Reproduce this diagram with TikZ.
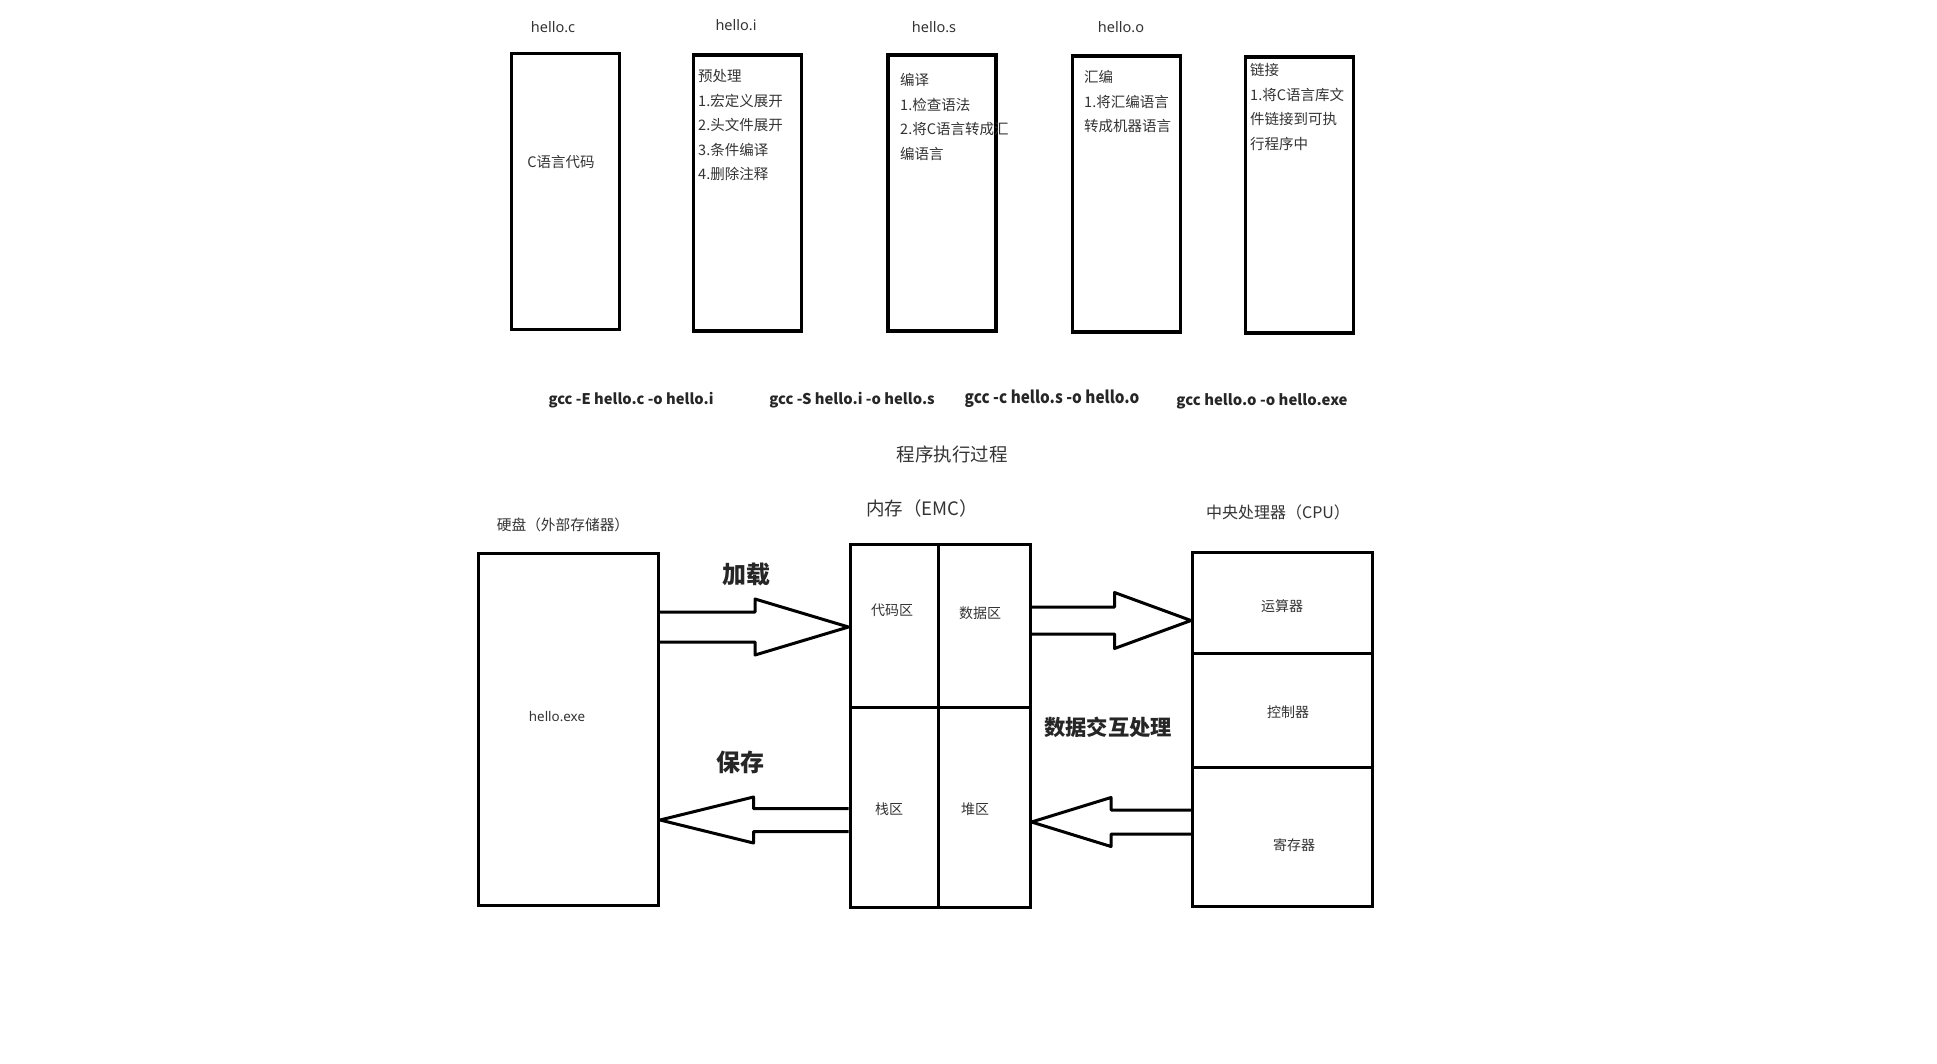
\documentclass[tikz,border=0pt]{standalone}
\usepackage{fontspec}
\setmainfont{Noto Sans CJK SC}
\newfontfamily\latinfont{Noto Sans}
\usetikzlibrary{calc,positioning}

% wide block arrow: start, tip, half shaft, half head, shaft length
\newcommand{\fatarrow}[5]{%
  \draw[line width=3pt,line join=round] ($#1+(0,#3)$) -- ($#1+(#5,#3)$) -- ($#1+(#5,#4)$) -- #2
    -- ($#1+(#5,-#4)$) -- ($#1+(#5,-#3)$) -- ($#1+(0,-#3)$);}

\begin{document}
\begin{tikzpicture}[x=1pt,y=-1pt]
\useasboundingbox (0,0) rectangle (1937,1063);

% compile steps
\begin{scope}[every node/.style={draw,line width=3.5pt,minimum width=108,minimum height=276}]
    \node (src) at (565.5,191.5) {};
    \node (pre) at (747.5,193) {};
    \node (cmp) at (942,193) {};
    \node (asm) at (1126.5,194) {};
    \node (lnk) at (1299.5,195) {};
\end{scope}

\begin{scope}[every node/.style={text=black!80,font=\latinfont\fontsize{14.5}{17}\selectfont}]
    \node (srcname) at (553,27) {hello.c};
    \node (prename) at (736,25) {hello.i};
    \node (cmpname) at (934,27) {hello.s};
    \node (asmname) at (1121,27) {hello.o};
\end{scope}

\begin{scope}[every node/.style={text=black!80,align=left,anchor=north west,inner sep=0pt,font=\fontsize{14.5}{24.5}\selectfont}]
    \node[anchor=center] (srctext) at (561,162) {C语言代码};
    \node (pretext) at (698,69.5) {预处理\\1.宏定义展开\\2.头文件展开\\3.条件编译\\4.删除注释};
    \node (cmptext) at (900,73.5) {编译\\1.检查语法\\2.将C语言转成汇\\编语言};
    \node (asmtext) at (1084,70.5) {汇编\\1.将汇编语言\\转成机器语言};
    \node (lnktext) at (1250,63.5) {链接\\1.将C语言库文\\件链接到可执\\行程序中};
\end{scope}

\begin{scope}[cmd/.style={text=black!85,font=\bfseries\fontsize{#1}{#1}\selectfont}]
    \node[cmd=14.7] (cmdE) at (631,400) {gcc -E hello.c -o hello.i};
    \node[cmd=14.8] (cmdS) at (852,400) {gcc -S hello.i -o hello.s};
    \node[font=\bfseries\fontsize{17}{17}\selectfont\addfontfeature{FakeStretch=0.9},text=black!85] (cmdC) at (1052,399) {gcc -c hello.s -o hello.o};
    \node[cmd=14.9] (cmdL) at (1262,401) {gcc hello.o -o hello.exe};
\end{scope}

% program execution
\begin{scope}[every node/.style={text=black!80,font=\fontsize{18.5}{21}\selectfont}]
    \node (runtitle) at (952,454) {程序执行过程};
    \node (memname) at (922,508) {内存（EMC）};
    \node[font=\fontsize{16}{19}\selectfont] (cpuname) at (1278,512) {中央处理器（CPU）};
    \node[font=\fontsize{14.7}{17}\selectfont] (diskname) at (563,525) {硬盘（外部存储器）};
\end{scope}

\begin{scope}[every node/.style={draw,line width=3pt}]
    \node[minimum width=180,minimum height=352] (disk) at (568.5,729.5) {};
    \node[minimum width=88,minimum height=163] (code) at (894,625.5) {};
    \node[minimum width=92,minimum height=163] (data) at (984,625.5) {};
    \node[minimum width=88,minimum height=200] (stack) at (894,807) {};
    \node[minimum width=92,minimum height=200] (heap) at (984,807) {};
    \node[minimum width=180,minimum height=101] (alu) at (1282.5,602.5) {};
    \node[minimum width=180,minimum height=114] (ctrl) at (1282.5,710) {};
    \node[minimum width=180,minimum height=139] (reg) at (1282.5,836.5) {};
\end{scope}

\begin{scope}[every node/.style={text=black!80,font=\fontsize{14}{17}\selectfont}]
    \node[font=\latinfont\fontsize{13.4}{16}\selectfont] (exe) at (557,716) {hello.exe};
    \node (codetext) at (892,610) {代码区};
    \node (datatext) at (980,613) {数据区};
    \node (stacktext) at (889,809) {栈区};
    \node (heaptext) at (975,809) {堆区};
    \node (alutext) at (1282,606) {运算器};
    \node (ctrltext) at (1288,712) {控制器};
    \node (regtext) at (1294,845) {寄存器};
\end{scope}

\begin{scope}[every node/.style={text=black!85,font=\bfseries\fontsize{24}{28}\selectfont}]
    \node (load) at (746,575) {加载};
    \node (save) at (740,762) {保存};
    \node[font=\bfseries\fontsize{21.3}{25}\selectfont] (swap) at (1108,727) {数据交互处理};
\end{scope}

\coordinate (loadS) at (disk.east |- 0,627);
\coordinate (loadT) at (code.west |- loadS);
\coordinate (sendS) at (data.east |- 0,620.5);
\coordinate (sendT) at (alu.west |- sendS);
\coordinate (saveS) at (stack.west |- 0,820);
\coordinate (saveT) at (disk.east |- saveS);
\coordinate (backS) at (reg.west |- 0,822);
\coordinate (backT) at (heap.east |- backS);
\fatarrow{(loadS)}{(loadT)}{15}{28}{95}
\fatarrow{(sendS)}{(sendT)}{13.5}{28}{83}
\fatarrow{(saveS)}{(saveT)}{11.5}{23}{-95}
\fatarrow{(backS)}{(backT)}{12}{24.5}{-80}
\end{tikzpicture}
\end{document}
